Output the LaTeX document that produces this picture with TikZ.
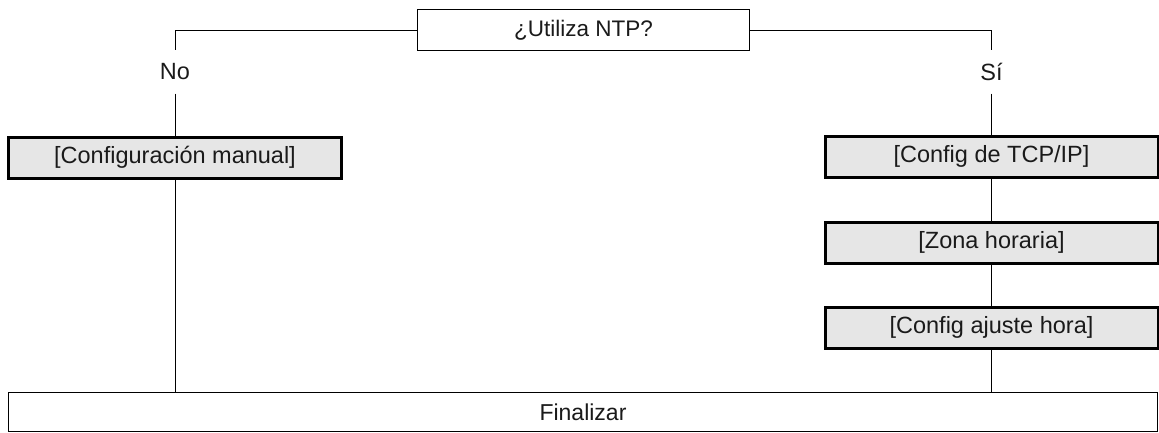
\documentclass[tikz,border=0pt]{standalone}
\usepackage{fontspec}
\setmainfont{Liberation Sans}
\definecolor{boxgray}{HTML}{E6E6E6}
\definecolor{inkgray}{HTML}{1A1A1A}
\begin{document}
\begin{tikzpicture}[x=1pt,y=-1pt,
  txt/.style={font=\fontsize{23.5}{27}\selectfont,text=inkgray},
  gbox/.style={txt,draw,line width=3pt,fill=boxgray,minimum width=333pt,minimum height=41pt,inner sep=0pt},
  tbox/.style={txt,draw,line width=1pt,fill=white,inner sep=0pt},
  lbl/.style={txt,minimum height=43pt,inner sep=0pt},
  conn/.style={line width=1pt}]
\useasboundingbox (0,0) rectangle (1159,432);
\node[tbox,minimum width=332pt,minimum height=41pt,font=\fontsize{22.5}{26}\selectfont] (q) at (583.5,30) {¿Utiliza NTP?};
\node[lbl] (no) at (175,72) {No};
\node[lbl] (si) at (991.5,72) {Sí};
\node[gbox] (man) at (175,157.5) {[Configuración manual]};
\node[gbox] (tcp) at (991.5,156.5) {[Config de TCP/IP]};
\node[gbox] (zona) at (991.5,242.5) {[Zona horaria]};
\node[gbox] (aj) at (991.5,327.5) {[Config ajuste hora]};
\node[tbox,minimum width=1149pt,minimum height=39pt,font=\fontsize{23}{27}\selectfont] (fin) at (583,412) {Finalizar};
\draw[conn] (q.west) -| (no.north);
\draw[conn] (q.east) -| (si.north);
\draw[conn] (no.south) -- (man.north);
\draw[conn] (si.south) -- (tcp.north);
\draw[conn] (tcp.south) -- (zona.north);
\draw[conn] (zona.south) -- (aj.north);
\draw[conn] (man.south) -- (man.south |- fin.north);
\draw[conn] (aj.south) -- (aj.south |- fin.north);
\end{tikzpicture}
\end{document}
